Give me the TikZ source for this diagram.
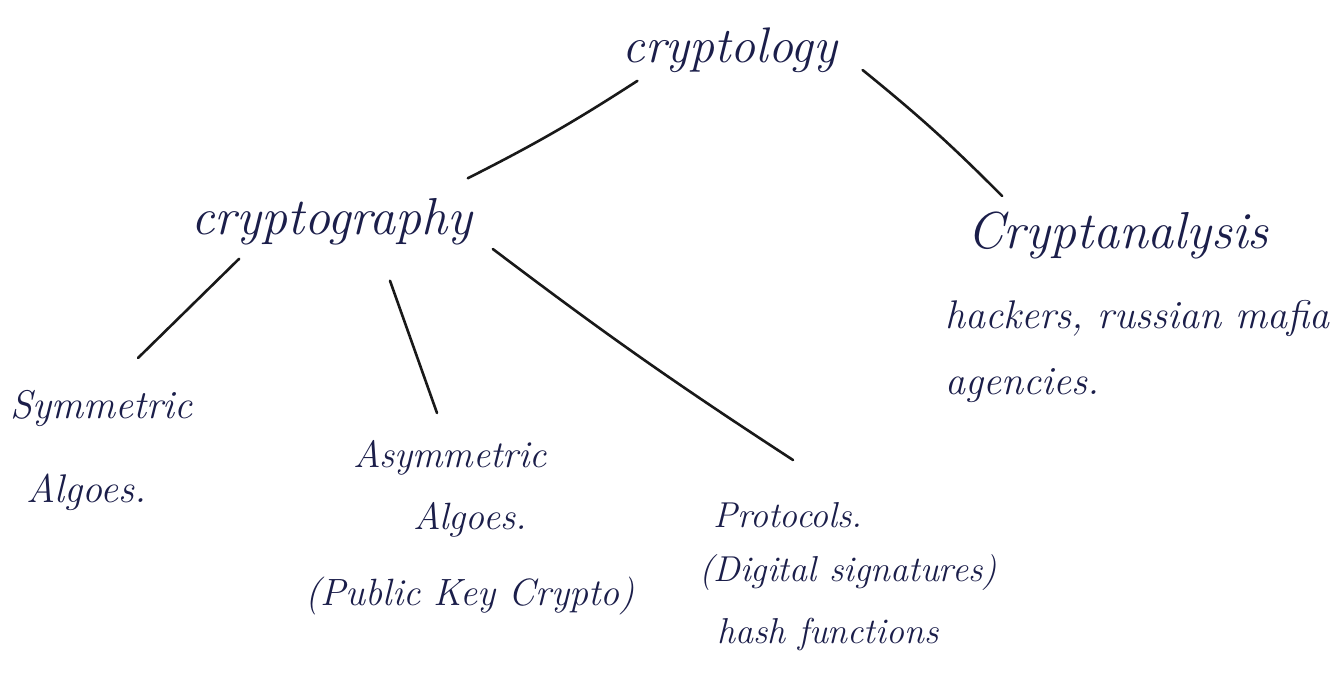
\documentclass[tikz,border=0pt]{standalone}
\usetikzlibrary{calc}
\definecolor{ink}{HTML}{1B1E4A}
\tikzset{
  lbl/.style={text=ink, inner sep=0pt, font=\itshape},
  conn/.style={draw=black!90, line width=1.3pt, line cap=round},
}
\begin{document}
\begin{tikzpicture}[x=0.5pt,y=-0.5pt]
\useasboundingbox (0,0) rectangle (1342,675);
\node[lbl, font=\itshape\fontsize{25}{30}\selectfont] (cryptology) at (730,50) {cryptology};
\node[lbl, font=\itshape\fontsize{26}{31}\selectfont] (cryptography) at (332,222) {cryptography};
\node[lbl, font=\itshape\fontsize{26}{31}\selectfont] (cryptanalysis) at (1118,235) {Cryptanalysis};
\node[lbl, font=\itshape\fontsize{20}{30}\selectfont, align=left, anchor=north west] (attackers) at (945,300) {hackers, russian mafia\\[3pt]agencies.};
\node[lbl, font=\itshape\fontsize{20}{28}\selectfont, align=left, anchor=north west] (symmetric) at (10,390) {Symmetric\\[14pt]\hspace*{8pt}Algoes.};
\node[lbl, font=\itshape\fontsize{19}{28}\selectfont, align=center, anchor=north] (asymmetric) at (470,440) {\hspace*{-20pt}Asymmetric\\[3pt]Algoes.\\[10pt](Public Key Crypto)};
\node[lbl, font=\itshape\fontsize{18}{25}\selectfont, align=center, anchor=north] (protocols) at (848,502) {\hspace*{-60pt}Protocols.\\[2pt](Digital signatures)\\[6pt]\hspace*{-20pt}hash functions};
\draw[conn] ([shift={(15,8)}]cryptology.south west) to[bend left=3] ([shift={(-5,-20)}]cryptography.north east);
\draw[conn] ([shift={(25,20)}]cryptology.east) to[bend left=3] ([shift={(35,-15)}]cryptanalysis.north west);
\draw[conn] ([shift={(48,13)}]cryptography.south west) -- ([shift={(128,-32)}]symmetric.north west);
\draw[conn] ([shift={(58,35)}]cryptography.south) -- ([shift={(-33,-27)}]asymmetric.north);
\draw[conn] ([shift={(20,27)}]cryptography.east) to[bend right=2] ([shift={(-55,-42)}]protocols.north);
\end{tikzpicture}
\end{document}
